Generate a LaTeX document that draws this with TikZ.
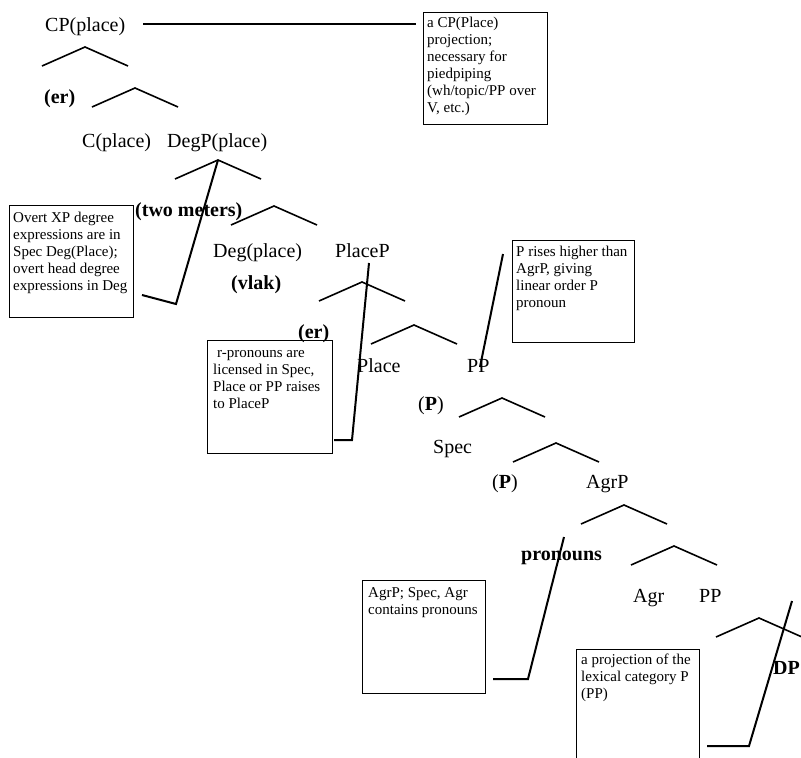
\documentclass[tikz,border=0pt]{standalone}
\usepackage{fontspec}
\setmainfont{Liberation Serif}
\begin{document}
\begin{tikzpicture}[x=1pt,y=-1pt,
  lbl/.style={anchor=base west, inner sep=0pt, font=\fontsize{20}{24}\selectfont},
  blbl/.style={anchor=base west, inner sep=0pt, font=\fontsize{20}{24}\selectfont\bfseries},
  note/.style={anchor=base west, inner sep=0pt, font=\fontsize{15}{17}\selectfont},
  notebox/.style={draw, line width=1.3pt, anchor=north west, inner sep=0pt},
  branch/.style={line width=1.6pt},
  pointer/.style={line width=2pt},
  vshape/.pic={\draw[branch] (-43,19) -- (0,0) -- (43,19);}
]
\useasboundingbox (0,0) rectangle (801,758);

% tree labels
\node[lbl]  (cp)     at (45,31)   {CP(place)};
\node[blbl] (er1)    at (44,103)  {(er)};
\node[lbl]  (cplace) at (82,147)  {C(place)};
\node[lbl]  (degp)   at (167,147) {DegP(place)};
\node[blbl] (twom)   at (135,216) {(two meters)};
\node[lbl]  (deg)    at (213,257) {Deg(place)};
\node[lbl]  (placep) at (335,257) {PlaceP};
\node[blbl] (vlak)   at (231,289) {(vlak)};
\node[blbl] (er2)    at (298,338) {(er)};
\node[lbl]  (place)  at (357,372) {Place};
\node[lbl]  (pp1)    at (467,372) {PP};
\node[lbl]  (p1)     at (418,410) {(\textbf{P})};
\node[lbl]  (spec)   at (433,453) {Spec};
\node[lbl]  (p2)     at (492,488) {(\textbf{P})};
\node[lbl]  (agrp)   at (586,488) {AgrP};
\node[blbl] (pron)   at (521,560) {pronouns};
\node[lbl]  (agr)    at (633,602) {Agr};
\node[lbl]  (pp2)    at (699,602) {PP};
\node[blbl] (dp)     at (773,674) {DP};

% branching carets
\pic at (85,47)  {vshape};
\pic at (135,88) {vshape};
\pic at (218,160) {vshape};
\pic at (274,206) {vshape};
\pic at (362,282) {vshape};
\pic at (414,325) {vshape};
\pic at (502,398) {vshape};
\pic at (556,443) {vshape};
\pic at (624,505) {vshape};
\pic at (674,546) {vshape};
\pic at (759,618) {vshape};

% note boxes
\node[notebox, minimum width=124pt, minimum height=112pt] (boxA) at (423,12) {};
\node[notebox, minimum width=124pt, minimum height=112pt] (boxB) at (9,205) {};
\node[notebox, minimum width=125pt, minimum height=113pt] (boxC) at (207,340) {};
\node[notebox, minimum width=122pt, minimum height=102pt] (boxD) at (512,240) {};
\node[notebox, minimum width=123pt, minimum height=113pt] (boxE) at (362,580) {};
\node[notebox, minimum width=123pt, minimum height=131pt] (boxF) at (576,649) {};

% note texts
\node[note] (tA) at (427,27) {\parbox[t]{130pt}{\raggedright a CP(Place)\\projection;\\necessary for\\piedpiping\\(wh/topic/PP over\\V, etc.)}};
\node[note] (tB) at (13,222) {\parbox[t]{130pt}{\raggedright Overt XP degree\\expressions are in\\Spec Deg(Place);\\overt head degree\\expressions in Deg}};
\node[note] (tC) at (213,357) {\parbox[t]{130pt}{\raggedright \hspace*{4pt}r-pronouns are\\licensed in Spec,\\Place or PP raises\\to PlaceP}};
\node[note] (tD) at (516,256) {\parbox[t]{130pt}{\raggedright P rises higher than\\AgrP, giving\\linear order P\\pronoun}};
\node[note] (tE) at (368,597) {\parbox[t]{130pt}{\raggedright AgrP; Spec, Agr\\contains pronouns}};
\node[note] (tF) at (581,664) {\parbox[t]{130pt}{\raggedright a projection of the\\lexical category P\\(PP)}};

% pointer lines
\coordinate (a1) at (143,24);  \coordinate (a2) at (416,24);
\coordinate (b1) at (142,295); \coordinate (b2) at (176,304); \coordinate (b3) at (218,160);
\coordinate (c1) at (334,440); \coordinate (c2) at (352,440); \coordinate (c3) at (369,263);
\coordinate (d1) at (503,254); \coordinate (d2) at (480,367);
\coordinate (e1) at (493,679); \coordinate (e2) at (528,679); \coordinate (e3) at (564,537);
\coordinate (f1) at (707,746); \coordinate (f2) at (749,746); \coordinate (f3) at (792,601);

\draw[pointer] (a1) -- (a2);
\draw[pointer] (b1) -- (b2) -- (b3);
\draw[pointer] (c1) -- (c2) -- (c3);
\draw[pointer] (d1) -- (d2);
\draw[pointer] (e1) -- (e2) -- (e3);
\draw[pointer] (f1) -- (f2) -- (f3);
\end{tikzpicture}
\end{document}
